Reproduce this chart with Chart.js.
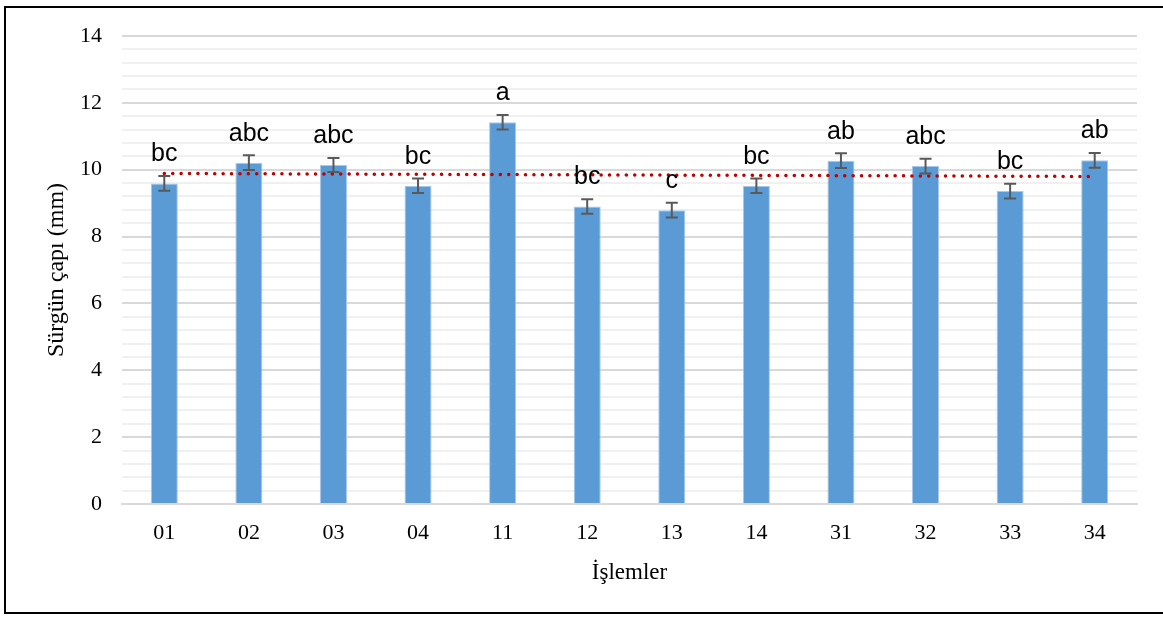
<!DOCTYPE html>
<html>
<head>
<meta charset="utf-8">
<script src="https://cdn.jsdelivr.net/npm/chart.js@4/dist/chart.umd.min.js"></script>
<style>
    html, body { margin: 0; padding: 0; background: #fff; overflow: hidden; }
    #wrap { position: relative; width: 1163px; height: 617px; }
    #frame {
        position: absolute; left: 4px; top: 6px; width: 1170px; height: 608px;
        border: 2px solid #000; box-sizing: border-box; pointer-events: none;
    }
    canvas { position: absolute; left: 0; top: 0; }
</style>
</head>
<body>
<div id="wrap">
    <canvas id="chart" width="1163" height="617"></canvas>
    <div id="frame"></div>
</div>
<script>
// Shoot diameter per treatment (mm), standard error and significance groups
const treatments = ['01', '02', '03', '04', '11', '12', '13', '14', '31', '32', '33', '34'];
const diameters  = [9.59, 10.21, 10.14, 9.52, 11.42, 8.90, 8.79, 9.52, 10.27, 10.11, 9.36, 10.28];
const stdErrors  = [0.22, 0.22, 0.21, 0.22, 0.22, 0.22, 0.22, 0.22, 0.22, 0.22, 0.22, 0.22];
const groups     = ['bc', 'abc', 'abc', 'bc', 'a', 'bc', 'c', 'bc', 'ab', 'abc', 'bc', 'ab'];

const BAR_COLOR = '#5b9bd5';
const SERIF = '"Liberation Serif", "Times New Roman", serif';
const SANS = '"Liberation Sans", Arial, sans-serif';

// least-squares linear trend over the category index
function linearTrend(ys) {
    const n = ys.length;
    const mx = (n - 1) / 2;
    const my = ys.reduce((a, b) => a + b, 0) / n;
    let sxy = 0, sxx = 0;
    ys.forEach((y, i) => { sxy += (i - mx) * (y - my); sxx += (i - mx) * (i - mx); });
    const slope = sxy / sxx;
    return ys.map((_, i) => my + slope * (i - mx));
}

const isMajor = v => Math.abs(v / 2 - Math.round(v / 2)) < 1e-6;

// error bars and letter labels on top of the bars
const barExtras = {
    id: 'barExtras',
    afterDatasetsDraw(chart) {
        const { ctx, scales: { y } } = chart;
        const meta = chart.getDatasetMeta(1);
        ctx.save();
        ctx.strokeStyle = '#595959';
        ctx.lineWidth = 2;
        diameters.forEach((v, i) => {
            const cx = meta.data[i].x;
            const top = y.getPixelForValue(v + stdErrors[i]);
            const bot = y.getPixelForValue(v - stdErrors[i]);
            ctx.beginPath();
            ctx.moveTo(cx, top); ctx.lineTo(cx, bot);
            ctx.moveTo(cx - 6, top); ctx.lineTo(cx + 6, top);
            ctx.moveTo(cx - 6, bot); ctx.lineTo(cx + 6, bot);
            ctx.stroke();
        });
        ctx.fillStyle = '#000';
        ctx.font = '25px ' + SANS;
        ctx.textAlign = 'center';
        ctx.textBaseline = 'alphabetic';
        diameters.forEach((v, i) => {
            const cx = meta.data[i].x;
            ctx.fillText(groups[i], cx, y.getPixelForValue(v) - 22);
        });
        ctx.restore();
    }
};

new Chart(document.getElementById('chart'), {
    data: {
        labels: treatments,
        datasets: [
            {
                type: 'line',
                data: linearTrend(diameters),
                borderColor: '#c00000',
                borderWidth: 3.5,
                borderDash: [0.1, 8.3],
                borderCapStyle: 'round',
                pointRadius: 0,
                fill: false,
                order: 0
            },
            {
                type: 'bar',
                data: diameters,
                backgroundColor: BAR_COLOR,
                borderColor: '#a9c8ea',
                borderWidth: 1,
                barPercentage: 0.32,
                categoryPercentage: 1,
                order: 1
            }
        ]
    },
    options: {
        responsive: false,
        animation: false,
        layout: { padding: { left: 5, right: 26, top: 36, bottom: 0 } },
        plugins: { legend: { display: false }, tooltip: { enabled: false } },
        scales: {
            x: {
                grid: { display: false, drawTicks: false },
                border: { color: '#d9d9d9', width: 2 },
                ticks: { color: '#000', font: { family: SERIF, size: 22 }, padding: 16 },
                title: {
                    display: true, text: 'İşlemler', color: '#000',
                    font: { family: SERIF, size: 23 }, padding: { top: 0, bottom: 30 }
                },
                afterFit(scale) { scale.height = 113; }
            },
            y: {
                min: 0, max: 14,
                ticks: {
                    stepSize: 0.4, autoSkip: false, color: '#000', padding: 20,
                    font: { family: SERIF, size: 22 },
                    callback: v => isMajor(v) ? Math.round(v) : ''
                },
                grid: {
                    drawTicks: false,
                    color: c => isMajor(c.tick.value) ? '#d9d9d9' : '#f0f0f0',
                    lineWidth: 2
                },
                border: { display: false },
                title: {
                    display: true, text: 'Sürgün çapı (mm)', color: '#000',
                    font: { family: SERIF, size: 24 }, padding: { top: 37, bottom: 0 }
                },
                afterFit(scale) { scale.width = 117; }
            }
        }
    },
    plugins: [barExtras]
});
</script>
</body>
</html>
